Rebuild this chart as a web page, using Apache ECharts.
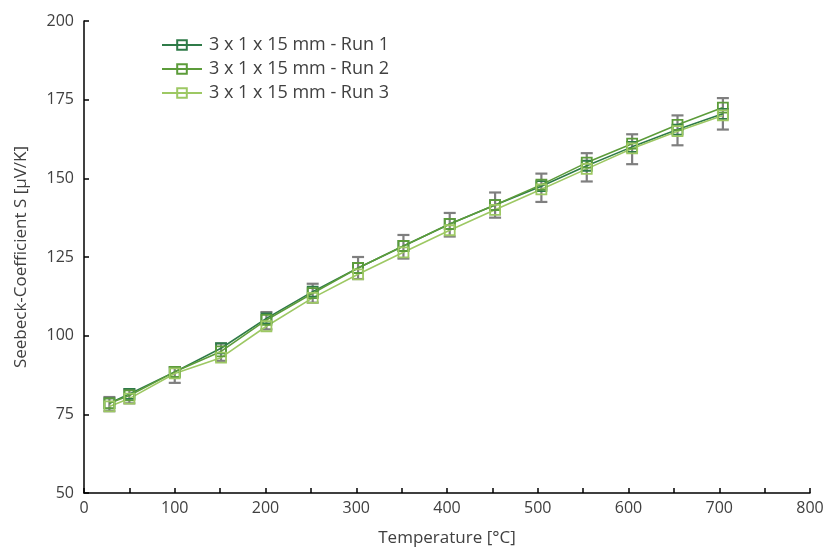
<!DOCTYPE html>
<html>
<head>
<meta charset="utf-8">
<script src="https://cdn.jsdelivr.net/npm/echarts@6/dist/echarts.min.js"></script>
<style>html,body{margin:0;padding:0;background:#fff}#c{width:827px;height:547px}</style>
</head>
<body>
<div id="c"></div>
<script>
const temperatures = [28, 50, 100, 151, 201, 252, 302, 352, 403, 453, 504, 554, 604, 654, 704];
const run1 = [78.5, 81.5, 88.5, 96.0, 105.5, 114.0, 121.5, 128.5, 135.5, 141.5, 147.5, 154.0, 160.0, 165.5, 170.5];
const run2 = [78.5, 81.0, 88.5, 95.0, 105.0, 113.5, 121.5, 128.5, 135.5, 141.5, 148.0, 155.0, 161.0, 167.0, 172.5];
const run3 = [77.5, 80.0, 88.0, 93.0, 103.0, 112.0, 119.5, 126.5, 133.5, 140.0, 146.5, 153.0, 159.5, 165.0, 170.0];
const errLow  = [76.0, 78.5, 85.0, 92.0, 102.0, 110.5, 118.0, 124.5, 131.5, 137.5, 142.5, 149.0, 154.5, 160.5, 165.5];
const errHigh = [80.5, 83.0, 90.0, 97.5, 107.5, 116.5, 125.0, 132.0, 139.0, 145.5, 151.5, 158.0, 164.0, 170.0, 175.5];
const seriesNames = ['3 x 1 x 15 mm - Run 1', '3 x 1 x 15 mm - Run 2', '3 x 1 x 15 mm - Run 3'];
const seriesColors = ['#2f7b48', '#5c9c3a', '#9dc863'];

const chart = echarts.init(document.getElementById('c'));
const font = '"Open Sans", "Noto Sans", sans-serif';

function lineSeries(name, vals, color) {
  return {
    name: name,
    type: 'line',
    data: temperatures.map((t, i) => [t, vals[i]]),
    symbol: 'rect',
    symbolSize: 10,
    showSymbol: true,
    lineStyle: { color: color, width: 1.6 },
    itemStyle: { color: 'rgba(255,255,255,0)', borderColor: color, borderWidth: 1.8 },
    emphasis: { disabled: true },
    z: 3,
    animation: false
  };
}

const errData = temperatures.map((t, i) => [t, errLow[i], errHigh[i]]);

chart.setOption({
  animation: false,
  backgroundColor: '#fff',
  textStyle: { fontFamily: font },
  grid: { left: 84, right: 17, top: 21, bottom: 54, containLabel: false, outerBoundsMode: 'none' },
  legend: {
    data: seriesNames,
    orient: 'vertical',
    left: 156,
    top: 31,
    itemWidth: 40,
    itemHeight: 12,
    itemGap: 6,
    textStyle: { fontFamily: font, fontSize: 18, color: '#404040', padding: [0, 0, 0, 2] }
  },
  xAxis: {
    type: 'value',
    min: 0, max: 800, interval: 50,
    name: 'Temperature [°C]',
    nameLocation: 'middle',
    nameGap: 37,
    nameTextStyle: { fontFamily: font, fontSize: 17, color: '#404040' },
    axisLine: { show: true, onZero: false, lineStyle: { color: '#000', width: 1.5 } },
    axisTick: { show: true, inside: true, length: 5, lineStyle: { color: '#000', width: 1.5 } },
    axisLabel: { fontFamily: font, fontSize: 16, color: '#404040', margin: 7,
      formatter: v => (v % 100 === 0 ? String(v) : '') },
    splitLine: { show: false }
  },
  yAxis: {
    type: 'value',
    min: 50, max: 200, interval: 25,
    name: 'Seebeck-Coefficient S [µV/K]',
    nameLocation: 'middle',
    nameGap: 54,
    nameRotate: 90,
    nameTextStyle: { fontFamily: font, fontSize: 17, color: '#404040' },
    axisLine: { show: true, lineStyle: { color: '#000', width: 1.5 } },
    axisTick: { show: true, inside: true, length: 5, lineStyle: { color: '#000', width: 1.5 } },
    axisLabel: { fontFamily: font, fontSize: 16, color: '#404040', margin: 10 },
    splitLine: { show: false }
  },
  series: [
    {
      name: 'errorbars',
      type: 'custom',
      data: errData,
      z: 2,
      silent: true,
      renderItem: function (params, api) {
        const x = api.value(0);
        const lo = api.coord([x, api.value(1)]);
        const hi = api.coord([x, api.value(2)]);
        const half = 6;
        const style = { stroke: '#7f7f7f', lineWidth: 2.2, fill: null };
        return {
          type: 'group',
          children: [
            { type: 'line', shape: { x1: lo[0], y1: lo[1], x2: hi[0], y2: hi[1] }, style: style },
            { type: 'line', shape: { x1: hi[0] - half, y1: hi[1], x2: hi[0] + half, y2: hi[1] }, style: style },
            { type: 'line', shape: { x1: lo[0] - half, y1: lo[1], x2: lo[0] + half, y2: lo[1] }, style: style }
          ]
        };
      }
    },
    lineSeries(seriesNames[0], run1, seriesColors[0]),
    lineSeries(seriesNames[1], run2, seriesColors[1]),
    lineSeries(seriesNames[2], run3, seriesColors[2])
  ]
});
</script>
</body>
</html>
